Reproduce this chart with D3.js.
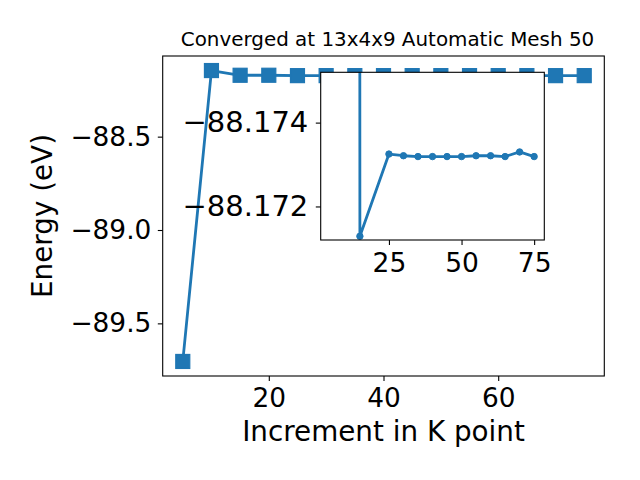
<!DOCTYPE html>
<html>
<head>
<meta charset="utf-8">
<script src="https://cdn.jsdelivr.net/npm/d3@7"></script>
<style>
body { margin: 0; background: #ffffff; }
svg { display: block; font-family: "DejaVu Sans", sans-serif; }
</style>
</head>
<body>
<div id="chart"></div>
<script>
// main series: energy for each k point increment
var kPoints = [5, 10, 15, 20, 25, 30, 35, 40, 45, 50, 55, 60, 65, 70, 75];
var energies = [-89.704, -88.146, -88.1713, -88.1712, -88.17325, -88.17321, -88.17319, -88.17319,
	-88.17319, -88.17319, -88.17321, -88.17321, -88.17319, -88.1733, -88.17319];

// inset series (zoomed view)
var insetK = [5, 15, 25, 30, 35, 40, 45, 50, 55, 60, 65, 70, 75];
var insetE = [-89.704, -88.17129, -88.17325, -88.17321, -88.17319, -88.17319, -88.17319,
	-88.17319, -88.17321, -88.17321, -88.17319, -88.1733, -88.17319];

// tick values
var mainXTicks = [20, 40, 60];
var mainYTicks = [-89.5, -89.0, -88.5];
var insetXTicks = [25, 50, 75];
var insetYTicks = [-88.174, -88.172];
var insetYLimits = [-88.1752, -88.1712];

var blue = "#1f77b4";

var size = { width: 640, height: 480 };

// main axes box
var box = { left: 162.7, right: 604.3, top: 56, bottom: 376 };
// inset axes box
var ibox = { left: 320.7, right: 544.3, top: 72.3, bottom: 240 };

// matplotlib style 5% padding
function padded(values)
{
	var ext = d3.extent(values);
	var pad = (ext[1] - ext[0]) * 0.05;
	return [ext[0] - pad, ext[1] + pad];
}

var xScale = d3.scaleLinear()
	.domain(padded(kPoints))
	.range([box.left, box.right]);

var yScale = d3.scaleLinear()
	.domain(padded(energies))
	.range([box.bottom, box.top]);

var ixScale = d3.scaleLinear()
	.domain(padded(insetK))
	.range([ibox.left, ibox.right]);

// inset y is inverted
var iyScale = d3.scaleLinear()
	.domain(insetYLimits)
	.range([ibox.top, ibox.bottom]);

var svg = d3.select("#chart").append("svg")
	.attr("width", size.width)
	.attr("height", size.height)
	.style("background", "#ffffff");

var defs = svg.append("defs");
defs.append("clipPath").attr("id", "insetClip")
	.append("rect")
	.attr("x", ibox.left).attr("y", ibox.top)
	.attr("width", ibox.right - ibox.left).attr("height", ibox.bottom - ibox.top);

function fmtTick(d, digits)
{
	return (d < 0 ? "\u2212" : "") + Math.abs(d).toFixed(digits);
}

// style the tick lines and labels of an axis group
function styleAxis(g, fontSize)
{
	g.select(".domain").remove();
	g.selectAll("line").attr("stroke", "#000").attr("stroke-width", 1.1);
	g.selectAll("text").attr("fill", "#000").style("font-size", fontSize)
		.style("font-family", "DejaVu Sans, sans-serif");
}

// main axes
var x_axis = d3.axisBottom(xScale)
	.tickValues(mainXTicks)
	.tickSize(4.9)
	.tickPadding(6.5)
	.tickFormat(function(d) { return d; });

var y_axis = d3.axisLeft(yScale)
	.tickValues(mainYTicks)
	.tickSize(4.9)
	.tickPadding(6.5)
	.tickFormat(function(d) { return fmtTick(d, 1); });

var gx = svg.append("g")
	.attr("transform", "translate(0," + box.bottom + ")")
	.call(x_axis);
var gy = svg.append("g")
	.attr("transform", "translate(" + box.left + ",0)")
	.call(y_axis);

styleAxis(gx, "26.4px");
styleAxis(gy, "26.4px");
gx.selectAll("text").attr("dy", "0.76em");

// main line and markers
var line = d3.line()
	.x(function(d, i) { return xScale(kPoints[i]); })
	.y(function(d) { return yScale(d); });

var mainGroup = svg.append("g");

mainGroup.append("path")
	.datum(energies)
	.attr("d", line)
	.attr("fill", "none")
	.attr("stroke", blue)
	.attr("stroke-width", 2.8)
	.attr("stroke-linejoin", "round");

mainGroup.selectAll("rect.marker")
	.data(energies)
	.enter()
	.append("rect")
	.attr("class", "marker")
	.attr("x", function(d, i) { return xScale(kPoints[i]) - 7; })
	.attr("y", function(d) { return yScale(d) - 7; })
	.attr("width", 14)
	.attr("height", 14)
	.attr("fill", blue)
	.attr("stroke", blue)
	.attr("stroke-width", 1.2);

// main frame
svg.append("rect")
	.attr("x", box.left).attr("y", box.top)
	.attr("width", box.right - box.left).attr("height", box.bottom - box.top)
	.attr("fill", "none")
	.attr("stroke", "#000")
	.attr("stroke-width", 1.1);

// title and labels
svg.append("text")
	.attr("x", (box.left + box.right) / 2 + 4)
	.attr("y", 46)
	.attr("text-anchor", "middle")
	.style("font-size", "19.9px")
	.text("Converged at 13x4x9 Automatic Mesh 50");

svg.append("text")
	.attr("x", (box.left + box.right) / 2)
	.attr("y", 441)
	.attr("text-anchor", "middle")
	.style("font-size", "27.8px")
	.text("Increment in K point");

svg.append("text")
	.attr("transform", "translate(52," + ((box.top + box.bottom) / 2) + ") rotate(-90)")
	.attr("text-anchor", "middle")
	.style("font-size", "27.8px")
	.text("Energy (eV)");

// inset
var inset = svg.append("g");

inset.append("rect")
	.attr("x", ibox.left).attr("y", ibox.top)
	.attr("width", ibox.right - ibox.left).attr("height", ibox.bottom - ibox.top)
	.attr("fill", "#ffffff");

var iline = d3.line()
	.x(function(d, i) { return ixScale(insetK[i]); })
	.y(function(d) { return iyScale(d); });

var insetPlot = inset.append("g").attr("clip-path", "url(#insetClip)");

insetPlot.append("path")
	.datum(insetE)
	.attr("d", iline)
	.attr("fill", "none")
	.attr("stroke", blue)
	.attr("stroke-width", 2.8)
	.attr("stroke-linejoin", "round");

insetPlot.selectAll("circle")
	.data(insetE)
	.enter()
	.append("circle")
	.attr("cx", function(d, i) { return ixScale(insetK[i]); })
	.attr("cy", function(d) { return iyScale(d); })
	.attr("r", 3.2)
	.attr("fill", blue)
	.attr("stroke", blue)
	.attr("stroke-width", 1);

var ix_axis = d3.axisBottom(ixScale)
	.tickValues(insetXTicks)
	.tickSize(4.9)
	.tickPadding(6.7)
	.tickFormat(function(d) { return d; });

var iy_axis = d3.axisLeft(iyScale)
	.tickValues(insetYTicks)
	.tickSize(4.9)
	.tickPadding(7.5)
	.tickFormat(function(d) { return fmtTick(d, 3); });

var igx = inset.append("g")
	.attr("transform", "translate(0," + ibox.bottom + ")")
	.call(ix_axis);
var igy = inset.append("g")
	.attr("transform", "translate(" + ibox.left + ",0)")
	.call(iy_axis);

styleAxis(igx, "26.5px");
styleAxis(igy, "29px");
igx.selectAll("text").attr("dy", "0.76em");

inset.append("rect")
	.attr("x", ibox.left).attr("y", ibox.top)
	.attr("width", ibox.right - ibox.left).attr("height", ibox.bottom - ibox.top)
	.attr("fill", "none")
	.attr("stroke", "#000")
	.attr("stroke-width", 1.1);
</script>
</body>
</html>
